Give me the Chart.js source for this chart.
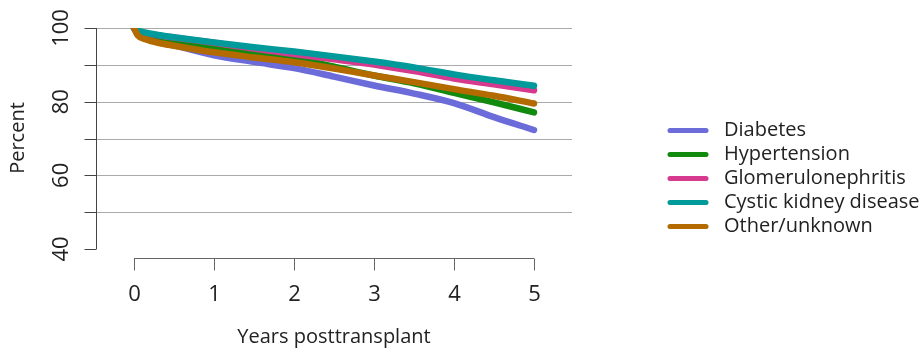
<!DOCTYPE html>
<html>
<head>
<meta charset="utf-8">
<script src="https://cdn.jsdelivr.net/npm/chart.js@4/dist/chart.umd.min.js"></script>
<style>
  html, body { margin: 0; padding: 0; background: #fff; }
  #wrap { width: 921px; height: 352px; }
</style>
</head>
<body>
<div id="wrap"><canvas id="myChart" width="921" height="352"></canvas></div>
<script>
  // data
  var years = [0, 0.05, 0.15, 0.3, 0.5, 1, 1.5, 2, 2.5, 3, 3.5, 4, 4.5, 5];
  var diabetes = [100, 98.5, 97.3, 96.2, 95.3, 92.6, 90.8, 89.1, 86.8, 84.4, 82.2, 79.6, 75.8, 72.3];
  var hypertension = [100, 98.8, 97.9, 97.2, 96.5, 94.9, 93.3, 91.8, 89.5, 87.1, 85.0, 82.4, 79.8, 77.1];
  var glomerulo = [100, 99.2, 98.6, 98.0, 97.4, 96.0, 94.4, 92.9, 91.5, 90.1, 88.3, 86.3, 84.7, 83.1];
  var cystic = [100, 99.3, 98.7, 98.1, 97.5, 96.1, 94.8, 93.6, 92.3, 90.9, 89.3, 87.4, 85.8, 84.3];
  var other = [100, 97.9, 96.9, 96.0, 95.2, 93.4, 92.0, 90.7, 89.0, 87.1, 85.3, 83.4, 81.6, 79.5];

  var seriesNames = ["Diabetes", "Hypertension", "Glomerulonephritis", "Cystic kidney disease", "Other/unknown"];
  var seriesValues = [diabetes, hypertension, glomerulo, cystic, other];
  var colors = ["#6b6bd9", "#118a0e", "#d63a8e", "#009a9a", "#b36b00"];

  var xTicks = [0, 1, 2, 3, 4, 5];
  var yTicksLabeled = [40, 60, 80, 100];
  var yTicksAll = [40, 50, 60, 70, 80, 90, 100];
  var yGrid = [50, 60, 70, 80, 90, 100];

  function pts(vals) {
    return years.map(function (x, i) { return { x: x, y: vals[i] }; });
  }

  var datasets = seriesNames.map(function (name, i) {
    return {
      label: name,
      data: pts(seriesValues[i]),
      borderColor: colors[i],
      backgroundColor: colors[i],
      borderWidth: 6.5,
      borderCapStyle: 'round',
      borderJoinStyle: 'round',
      pointRadius: 0,
      cubicInterpolationMode: 'monotone',
      order: seriesNames.length - i
    };
  });

  var FONT = '"Open Sans", "Noto Sans", sans-serif';

  // grid + axes drawn under the lines, legend and titles after
  var rAxes = {
    id: 'rAxes',
    beforeDatasetsDraw: function (chart) {
      var c = chart.ctx, ys = chart.scales.y, a = chart.chartArea;
      c.save();
      c.strokeStyle = '#aaaaaa';
      c.lineWidth = 1;
      yGrid.forEach(function (v) {
        var y = Math.round(ys.getPixelForValue(v)) + 0.5;
        c.beginPath(); c.moveTo(a.left, y); c.lineTo(a.right, y); c.stroke();
      });
      c.restore();
    },
    afterDraw: function (chart) {
      var c = chart.ctx, xs = chart.scales.x, ys = chart.scales.y, a = chart.chartArea;
      c.save();
      // y axis
      c.strokeStyle = '#444';
      c.lineWidth = 1;
      var ax = Math.round(a.left) + 0.5;
      c.beginPath();
      c.moveTo(ax, ys.getPixelForValue(100));
      c.lineTo(ax, ys.getPixelForValue(40));
      c.stroke();
      yTicksAll.forEach(function (v) {
        var y = Math.round(ys.getPixelForValue(v)) + 0.5;
        c.beginPath(); c.moveTo(ax - 12, y); c.lineTo(ax, y); c.stroke();
      });
      c.fillStyle = '#222';
      c.font = '22px ' + FONT;
      c.textAlign = 'center';
      c.textBaseline = 'alphabetic';
      yTicksLabeled.forEach(function (v) {
        c.save();
        c.translate(68, ys.getPixelForValue(v));
        c.rotate(-Math.PI / 2);
        c.fillText(String(v), 0, 0);
        c.restore();
      });
      // x axis
      c.strokeStyle = '#666';
      var yb = 258.5;
      c.beginPath();
      c.moveTo(xs.getPixelForValue(0), yb);
      c.lineTo(xs.getPixelForValue(5), yb);
      c.stroke();
      xTicks.forEach(function (v) {
        var x = Math.round(xs.getPixelForValue(v)) + 0.5;
        c.beginPath(); c.moveTo(x, yb); c.lineTo(x, yb + 12); c.stroke();
        c.textBaseline = 'middle';
        c.fillText(String(v), x, 295);
      });
      // titles
      c.font = '20px ' + FONT;
      c.fillText('Years posttransplant', xs.getPixelForValue(2.5), 337);
      c.save();
      c.translate(18, 138);
      c.rotate(-Math.PI / 2);
      c.fillText('Percent', 0, 0);
      c.restore();
      // legend
      c.textAlign = 'left';
      seriesNames.forEach(function (name, i) {
        var y = 130.5 + i * 24;
        c.strokeStyle = colors[i];
        c.lineWidth = 5;
        c.lineCap = 'round';
        c.beginPath(); c.moveTo(670, y); c.lineTo(706, y); c.stroke();
        c.fillStyle = '#222';
        c.fillText(name, 724, y);
      });
      c.restore();
    }
  };

  var ctx = document.getElementById("myChart").getContext('2d');
  var myChart = new Chart(ctx, {
    type: 'line',
    data: { datasets: datasets },
    options: {
      responsive: false,
      animation: false,
      layout: { padding: { left: 96, right: 349, top: 28, bottom: 103 } },
      scales: {
        x: { type: 'linear', min: -0.475, max: 5.475, display: false },
        y: { type: 'linear', min: 40, max: 100, display: false }
      },
      plugins: { legend: { display: false }, tooltip: { enabled: false } }
    },
    plugins: [rAxes]
  });
</script>
</body>
</html>
